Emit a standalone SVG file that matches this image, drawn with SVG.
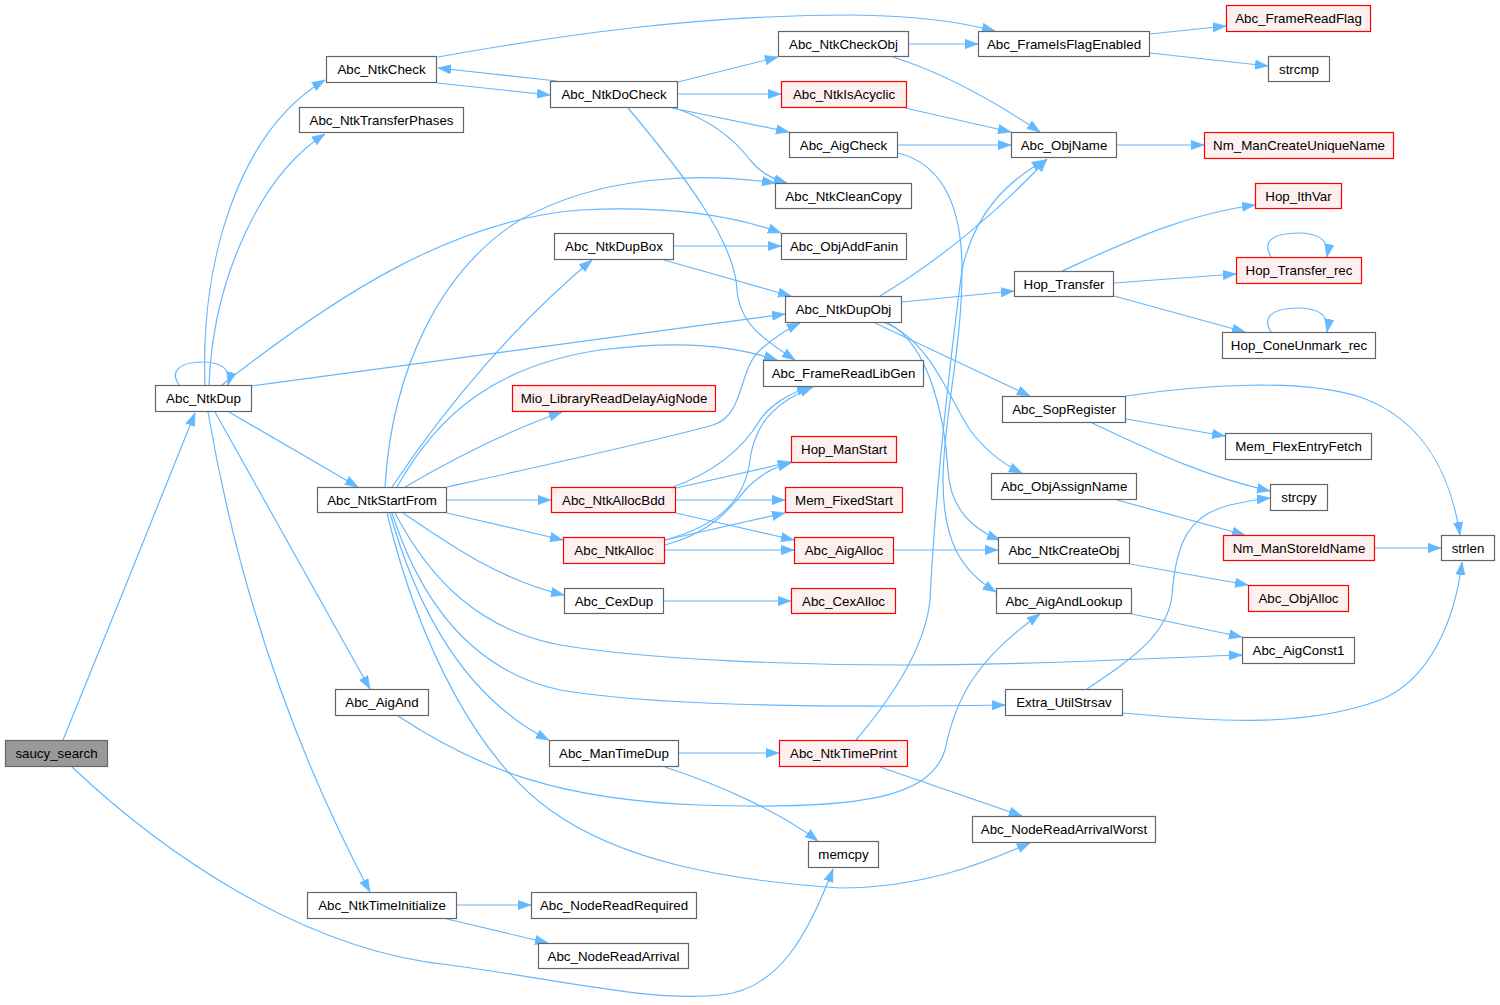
<svg xmlns="http://www.w3.org/2000/svg" width="1500" height="1005" viewBox="0 0 1500 1005">
<defs>
<marker id="ah" markerUnits="userSpaceOnUse" markerWidth="14" markerHeight="11" refX="13" refY="5" orient="auto">
<path d="M0,0.3 L13,5 L0,9.7 z" fill="#63b8ff" stroke="#63b8ff" stroke-width="0.6"/>
</marker>
<style>
rect{fill:#ffffff;stroke:#666666;stroke-width:1.2}
.r rect{fill:#fff0f0;stroke:#ff0000}
.g rect{fill:#999999;stroke:#666666}
text{font-family:"Liberation Sans",Arial,sans-serif;font-size:13.33px;fill:#000000;text-anchor:middle}
#edges path{fill:none;stroke:#63b8ff;stroke-width:1.2;marker-end:url(#ah)}
</style>
</defs>
<rect x="0" y="0" width="1500" height="1005" style="fill:#ffffff;stroke:none"/>
<g id="edges">
<path d="M63,740 C100,650 160,500 195,413"/>
<path d="M72,767 C160,850 300,950 450,965 C560,980 650,1002 720,995 C780,990 810,930 833,869"/>
<path d="M179,385 C170,372 178,362 203,362 C222,362 232,370 228,385"/>
<path d="M205,385 C200,260 240,130 325,80"/>
<path d="M209,385 C213,280 260,175 325,134"/>
<path d="M222,385 C330,300 450,220 580,210 C680,205 740,218 781,233"/>
<path d="M252,386 L785,314"/>
<path d="M229,412 L358,487"/>
<path d="M215,412 L370,689"/>
<path d="M208,412 C240,600 300,760 370,892"/>
<path d="M438,57 C560,35 700,15 850,15 C920,16 960,22 995,31"/>
<path d="M437,83 L550,95"/>
<path d="M557,81 L438,68"/>
<path d="M678,82 L778,57"/>
<path d="M678,94 L781,94"/>
<path d="M672,108 L789,132"/>
<path d="M675,108 C710,120 735,140 750,160 C760,172 770,178 787,183"/>
<path d="M628,108 C680,170 735,240 737,290 C740,325 765,340 795,360"/>
<path d="M909,44 L978,44"/>
<path d="M893,57 C950,75 1000,105 1040,132"/>
<path d="M905,108 L1011,132"/>
<path d="M898,145 L1011,145"/>
<path d="M898,153 C945,165 962,210 962,270 C962,350 943,420 943,480 C943,540 960,570 996,592"/>
<path d="M1150,34 L1226,26"/>
<path d="M1150,53 L1268,66"/>
<path d="M1117,145 L1204,145"/>
<path d="M674,246 L781,246"/>
<path d="M664,260 L791,296"/>
<path d="M902,302 L1014,291"/>
<path d="M880,296 C940,260 1000,210 1047,159"/>
<path d="M875,323 L1030,396"/>
<path d="M885,323 C930,340 950,400 970,430 C985,450 1005,465 1022,473"/>
<path d="M888,323 C930,345 945,420 948,470 C950,510 975,530 1000,540"/>
<path d="M1062,271 C1120,245 1180,215 1255,205"/>
<path d="M1114,283 L1236,274"/>
<path d="M1114,296 L1245,332"/>
<path d="M1271,257 C1262,242 1272,233 1298,233 C1318,233 1330,240 1327,257"/>
<path d="M1271,332 C1262,317 1272,308 1298,308 C1318,308 1330,315 1327,332"/>
<path d="M385,487 C392,370 440,270 520,220 C600,175 700,172 775,183"/>
<path d="M392,487 C450,400 520,320 592,260"/>
<path d="M397,487 C440,410 500,365 600,350 C680,340 730,345 777,360"/>
<path d="M405,487 C460,455 510,430 562,412"/>
<path d="M447,487 C560,462 660,440 713,425 C745,415 738,370 760,350 C775,337 785,330 800,323"/>
<path d="M447,500 L551,500"/>
<path d="M447,513 L563,540"/>
<path d="M403,513 C450,545 500,580 564,595"/>
<path d="M395,513 C430,580 480,630 560,645 C650,660 800,665 900,665 C1050,665 1150,658 1242,655"/>
<path d="M392,513 C420,600 470,670 560,690 C650,705 800,708 1005,705"/>
<path d="M390,513 C420,620 470,700 549,740"/>
<path d="M387,513 C420,650 480,760 550,810 C620,860 720,880 840,888 C920,888 980,865 1030,843"/>
<path d="M676,488 L791,462"/>
<path d="M676,500 L785,500"/>
<path d="M676,513 L794,540"/>
<path d="M673,487 C720,470 745,445 760,420 C770,405 790,393 810,387"/>
<path d="M665,540 C720,525 745,500 750,460 C755,420 780,400 813,387"/>
<path d="M665,545 C720,530 735,500 750,485 C765,472 775,467 791,463"/>
<path d="M665,540 L785,513"/>
<path d="M665,550 L794,550"/>
<path d="M894,550 L998,550"/>
<path d="M664,601 L791,601"/>
<path d="M1126,419 L1225,436"/>
<path d="M1092,423 C1150,450 1200,475 1270,491"/>
<path d="M1126,396 C1200,385 1300,378 1360,397 C1420,418 1450,470 1460,535"/>
<path d="M1117,500 L1245,535"/>
<path d="M1375,548 L1441,548"/>
<path d="M1130,564 L1248,585"/>
<path d="M1132,614 L1242,637"/>
<path d="M1087,689 C1130,660 1168,635 1172,595 C1176,540 1190,515 1230,505 C1250,500 1260,499 1270,498"/>
<path d="M1123,713 C1200,720 1300,730 1380,700 C1430,680 1455,620 1462,562"/>
<path d="M679,753 L779,753"/>
<path d="M665,767 C720,785 780,812 818,841"/>
<path d="M880,767 L1022,816"/>
<path d="M856,740 C890,700 925,650 930,600 C935,500 945,400 962,270 C975,210 1010,180 1045,160"/>
<path d="M457,905 L531,905"/>
<path d="M447,919 L548,943"/>
<path d="M398,716 C480,770 560,800 700,805 C850,810 930,800 945,750 C955,700 975,660 1040,614"/>
</g>
<g id="saucy_search" class="g"><rect x="5.5" y="740.5" width="102" height="26"/><text x="56.5" y="758">saucy_search</text></g>
<g id="Abc_NtkDup"><rect x="155.5" y="385.5" width="96" height="26"/><text x="203.5" y="403">Abc_NtkDup</text></g>
<g id="Abc_NtkCheck"><rect x="326.5" y="56.5" width="110" height="26"/><text x="381.5" y="74">Abc_NtkCheck</text></g>
<g id="Abc_NtkTransferPhases"><rect x="299.5" y="107.5" width="164" height="25"/><text x="381.5" y="124.5">Abc_NtkTransferPhases</text></g>
<g id="Abc_NtkDoCheck"><rect x="550.5" y="81.5" width="127" height="26"/><text x="614" y="99">Abc_NtkDoCheck</text></g>
<g id="Abc_NtkDupBox"><rect x="554.5" y="233.5" width="119" height="26"/><text x="614" y="251">Abc_NtkDupBox</text></g>
<g id="Abc_NtkCheckObj"><rect x="778.5" y="31.5" width="130" height="25"/><text x="843.5" y="48.5">Abc_NtkCheckObj</text></g>
<g id="Abc_FrameIsFlagEnabled"><rect x="978.5" y="31.5" width="171" height="25"/><text x="1064" y="48.5">Abc_FrameIsFlagEnabled</text></g>
<g id="Abc_NtkIsAcyclic" class="r"><rect x="781.5" y="81.5" width="125" height="26"/><text x="844" y="99">Abc_NtkIsAcyclic</text></g>
<g id="Abc_AigCheck"><rect x="789.5" y="132.5" width="108" height="25"/><text x="843.5" y="149.5">Abc_AigCheck</text></g>
<g id="Abc_ObjName"><rect x="1011.5" y="132.5" width="105" height="25"/><text x="1064" y="149.5">Abc_ObjName</text></g>
<g id="Abc_NtkCleanCopy"><rect x="775.5" y="183.5" width="136" height="25"/><text x="843.5" y="200.5">Abc_NtkCleanCopy</text></g>
<g id="Abc_ObjAddFanin"><rect x="781.5" y="233.5" width="125" height="26"/><text x="844" y="251">Abc_ObjAddFanin</text></g>
<g id="Hop_Transfer"><rect x="1014.5" y="271.5" width="99" height="25"/><text x="1064" y="288.5">Hop_Transfer</text></g>
<g id="Abc_FrameReadFlag" class="r"><rect x="1226.5" y="5.5" width="144" height="26"/><text x="1298.5" y="23">Abc_FrameReadFlag</text></g>
<g id="strcmp"><rect x="1268.5" y="56.5" width="61" height="25"/><text x="1299" y="73.5">strcmp</text></g>
<g id="Nm_ManCreateUniqueName" class="r"><rect x="1204.5" y="132.5" width="189" height="26"/><text x="1299" y="150">Nm_ManCreateUniqueName</text></g>
<g id="Hop_IthVar" class="r"><rect x="1255.5" y="183.5" width="86" height="25"/><text x="1298.5" y="200.5">Hop_IthVar</text></g>
<g id="Hop_Transfer_rec" class="r"><rect x="1236.5" y="257.5" width="125" height="26"/><text x="1299" y="275">Hop_Transfer_rec</text></g>
<g id="Hop_ConeUnmark_rec"><rect x="1222.5" y="332.5" width="153" height="26"/><text x="1299" y="350">Hop_ConeUnmark_rec</text></g>
<g id="Abc_NtkStartFrom"><rect x="317.5" y="487.5" width="129" height="25"/><text x="382" y="504.5">Abc_NtkStartFrom</text></g>
<g id="Mio_LibraryReadDelayAigNode" class="r"><rect x="512.5" y="385.5" width="203" height="26"/><text x="614" y="403">Mio_LibraryReadDelayAigNode</text></g>
<g id="Abc_NtkAllocBdd" class="r"><rect x="551.5" y="487.5" width="124" height="25"/><text x="613.5" y="504.5">Abc_NtkAllocBdd</text></g>
<g id="Abc_NtkAlloc" class="r"><rect x="563.5" y="537.5" width="101" height="26"/><text x="614" y="555">Abc_NtkAlloc</text></g>
<g id="Abc_CexDup"><rect x="564.5" y="588.5" width="99" height="25"/><text x="614" y="605.5">Abc_CexDup</text></g>
<g id="Abc_NtkDupObj"><rect x="785.5" y="296.5" width="116" height="26"/><text x="843.5" y="314">Abc_NtkDupObj</text></g>
<g id="Abc_FrameReadLibGen"><rect x="763.5" y="360.5" width="160" height="26"/><text x="843.5" y="378">Abc_FrameReadLibGen</text></g>
<g id="Hop_ManStart" class="r"><rect x="791.5" y="436.5" width="105" height="26"/><text x="844" y="454">Hop_ManStart</text></g>
<g id="Mem_FixedStart" class="r"><rect x="785.5" y="487.5" width="117" height="25"/><text x="844" y="504.5">Mem_FixedStart</text></g>
<g id="Abc_AigAlloc" class="r"><rect x="794.5" y="537.5" width="99" height="26"/><text x="844" y="555">Abc_AigAlloc</text></g>
<g id="Abc_CexAlloc" class="r"><rect x="791.5" y="588.5" width="104" height="25"/><text x="843.5" y="605.5">Abc_CexAlloc</text></g>
<g id="Abc_SopRegister"><rect x="1002.5" y="396.5" width="123" height="26"/><text x="1064" y="414">Abc_SopRegister</text></g>
<g id="Abc_ObjAssignName"><rect x="991.5" y="473.5" width="145" height="26"/><text x="1064" y="491">Abc_ObjAssignName</text></g>
<g id="Abc_NtkCreateObj"><rect x="998.5" y="537.5" width="131" height="26"/><text x="1064" y="555">Abc_NtkCreateObj</text></g>
<g id="Abc_AigAndLookup"><rect x="996.5" y="588.5" width="135" height="25"/><text x="1064" y="605.5">Abc_AigAndLookup</text></g>
<g id="Mem_FlexEntryFetch"><rect x="1225.5" y="433.5" width="146" height="26"/><text x="1298.5" y="451">Mem_FlexEntryFetch</text></g>
<g id="strcpy"><rect x="1270.5" y="484.5" width="57" height="26"/><text x="1299" y="502">strcpy</text></g>
<g id="Nm_ManStoreIdName" class="r"><rect x="1223.5" y="535.5" width="151" height="25"/><text x="1299" y="552.5">Nm_ManStoreIdName</text></g>
<g id="strlen"><rect x="1441.5" y="535.5" width="53" height="25"/><text x="1468" y="552.5">strlen</text></g>
<g id="Abc_ObjAlloc" class="r"><rect x="1248.5" y="585.5" width="100" height="26"/><text x="1298.5" y="603">Abc_ObjAlloc</text></g>
<g id="Abc_AigConst1"><rect x="1242.5" y="637.5" width="112" height="26"/><text x="1298.5" y="655">Abc_AigConst1</text></g>
<g id="Abc_AigAnd"><rect x="335.5" y="689.5" width="93" height="26"/><text x="382" y="707">Abc_AigAnd</text></g>
<g id="Abc_ManTimeDup"><rect x="549.5" y="740.5" width="129" height="26"/><text x="614" y="758">Abc_ManTimeDup</text></g>
<g id="Abc_NtkTimeInitialize"><rect x="307.5" y="892.5" width="149" height="26"/><text x="382" y="910">Abc_NtkTimeInitialize</text></g>
<g id="Abc_NodeReadRequired"><rect x="531.5" y="892.5" width="165" height="26"/><text x="614" y="910">Abc_NodeReadRequired</text></g>
<g id="Abc_NodeReadArrival"><rect x="538.5" y="943.5" width="150" height="25"/><text x="613.5" y="960.5">Abc_NodeReadArrival</text></g>
<g id="Abc_NtkTimePrint" class="r"><rect x="779.5" y="740.5" width="128" height="26"/><text x="843.5" y="758">Abc_NtkTimePrint</text></g>
<g id="Extra_UtilStrsav"><rect x="1005.5" y="689.5" width="117" height="26"/><text x="1064" y="707">Extra_UtilStrsav</text></g>
<g id="Abc_NodeReadArrivalWorst"><rect x="972.5" y="816.5" width="183" height="26"/><text x="1064" y="834">Abc_NodeReadArrivalWorst</text></g>
<g id="memcpy"><rect x="808.5" y="841.5" width="70" height="26"/><text x="843.5" y="859">memcpy</text></g>
</svg>
